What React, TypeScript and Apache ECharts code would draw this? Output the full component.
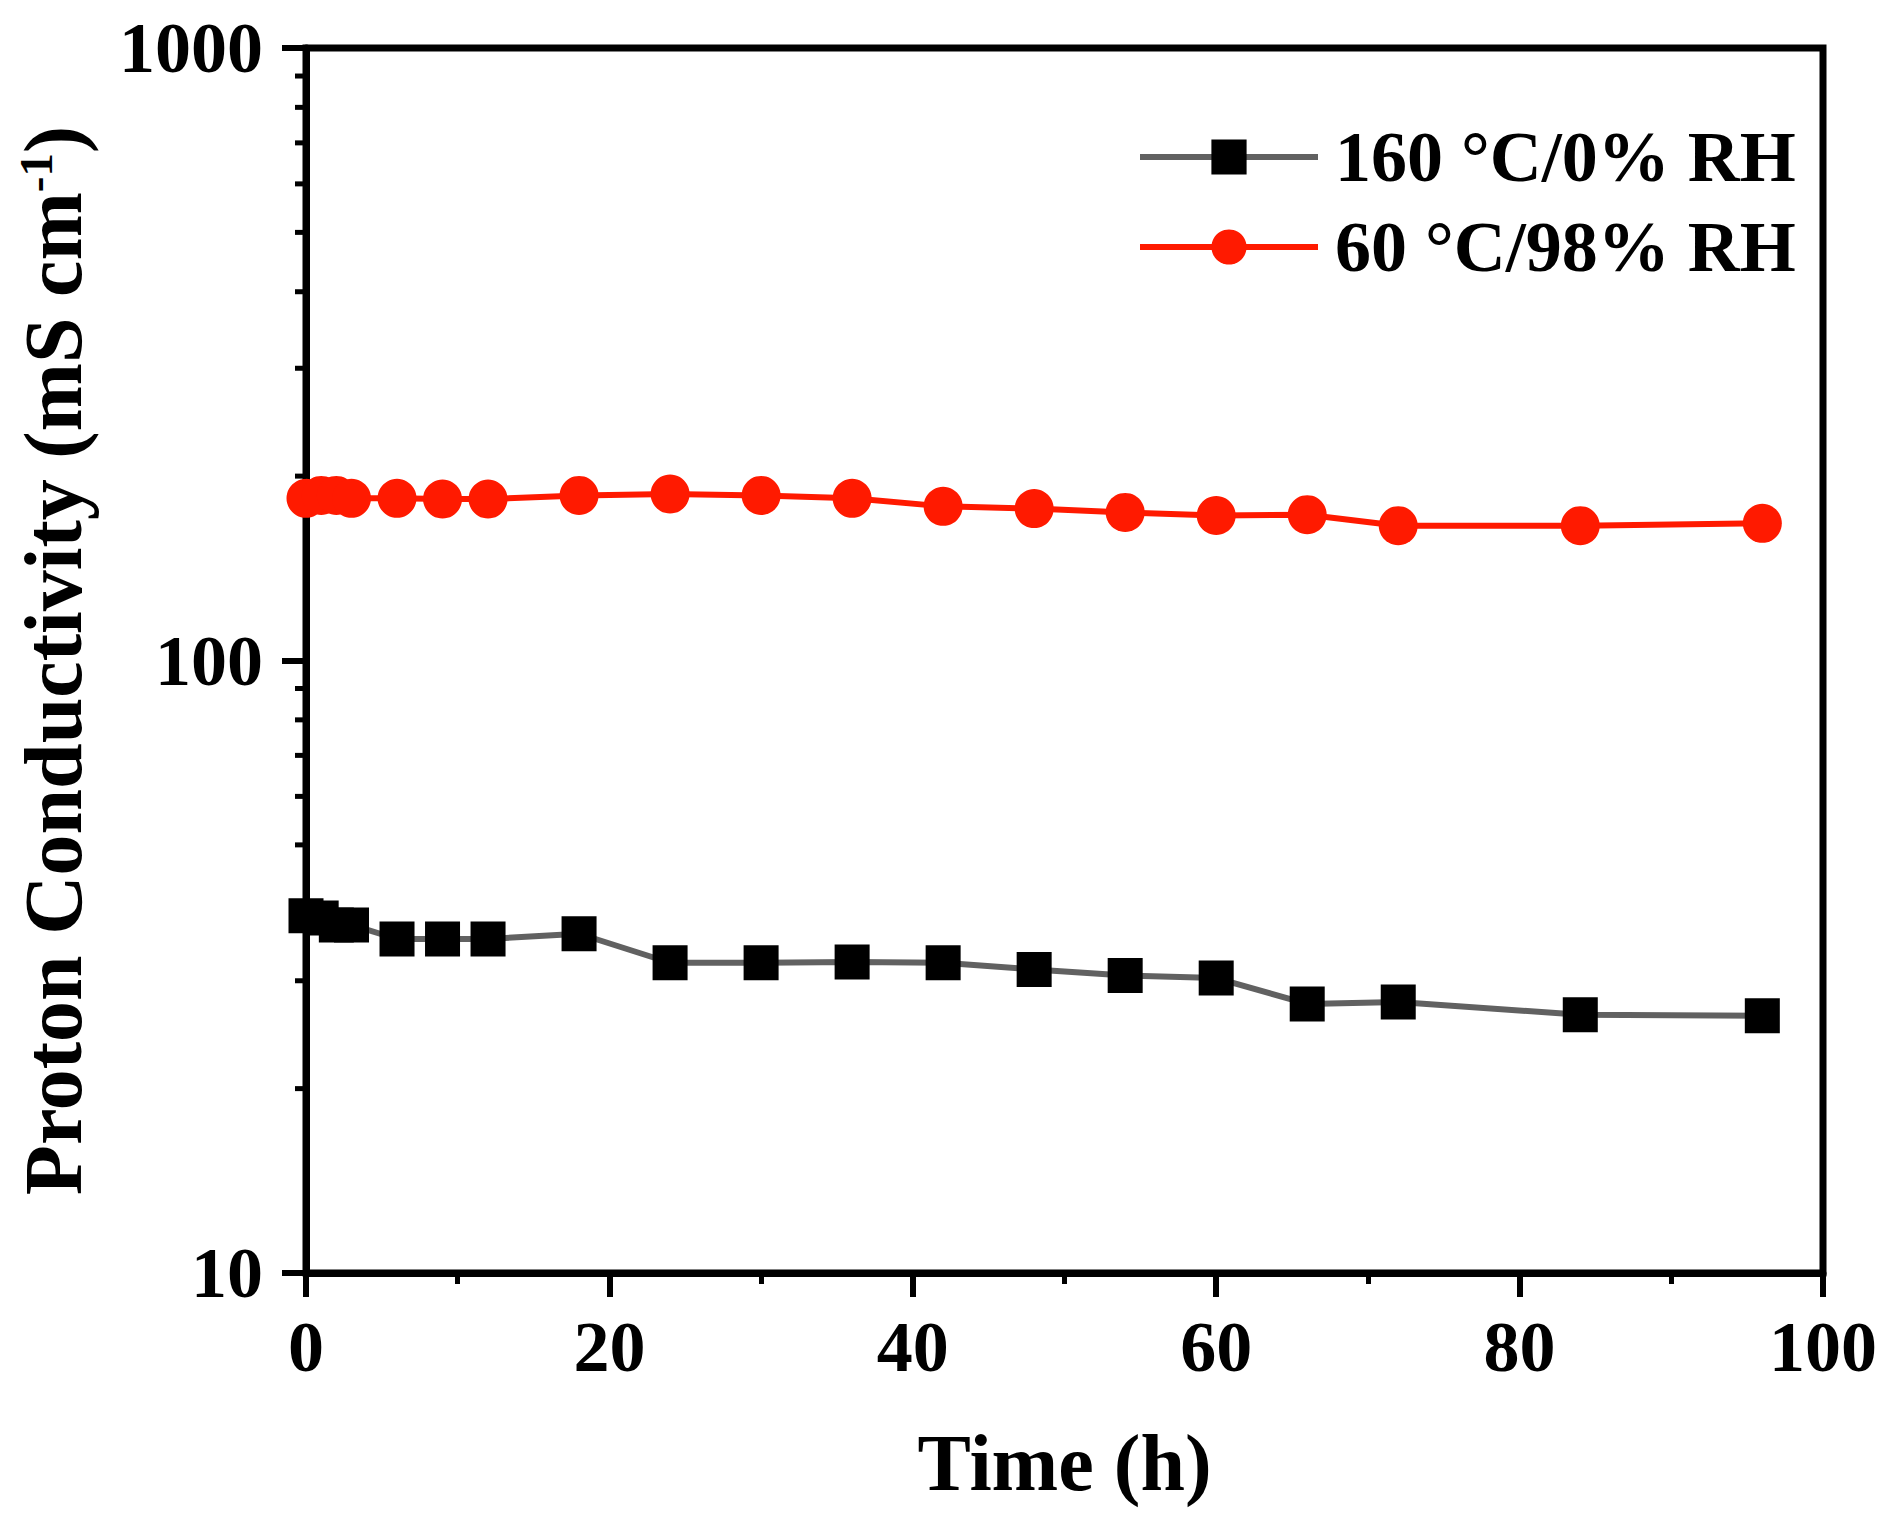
import { useEffect, useRef } from 'react';
import * as echarts from 'echarts';

const times = [0, 1, 2, 3, 6, 9, 12, 18, 24, 30, 36, 42, 48, 54, 60, 66, 72, 84, 96];
const dryValues = [38.3, 38.0, 37.0, 37.0, 35.1, 35.1, 35.1, 35.8, 32.1, 32.1, 32.2, 32.1, 31.3, 30.6, 30.3, 27.5, 27.7, 26.4, 26.3];
const humidValues = [184, 186, 186, 184, 184, 183.5, 183.5, 186, 187, 186, 184, 178.5, 177, 174.5, 172.5, 173, 166, 166, 167.5];
const seriesNames = ['160 °C/0% RH', '60 °C/98% RH'];
const yMinorTicks = [20, 30, 40, 50, 60, 70, 80, 90, 200, 300, 400, 500, 600, 700, 800, 900];

const FONT = '"Liberation Serif", "Times New Roman", serif';

export default function App() {
  const chartRef = useRef<HTMLDivElement>(null);

  useEffect(() => {
    if (!chartRef.current) return;
    const chart = echarts.init(chartRef.current, undefined, { renderer: 'svg' });

    chart.setOption({
      animation: false,
      backgroundColor: '#fff',
      grid: {
        left: 306,
        right: 81,
        top: 48,
        bottom: 264,
        show: true,
        borderColor: '#000',
        borderWidth: 7,
      },
      legend: {
        data: seriesNames,
        orient: 'vertical',
        left: 1132,
        top: 116,
        itemWidth: 178,
        itemHeight: 44,
        itemGap: 18,
        lineStyle: { width: 6 },
        textStyle: {
          fontSize: 72,
          fontWeight: 'bold',
          fontFamily: FONT,
          color: '#000',
          padding: [0, 0, 0, 12],
        },
      },
      xAxis: {
        type: 'value',
        min: 0,
        max: 100,
        interval: 20,
        name: 'Time (h)',
        nameLocation: 'middle',
        nameGap: 150,
        nameTextStyle: { fontSize: 80, fontWeight: 'bold', fontFamily: FONT, color: '#000' },
        axisLine: { lineStyle: { color: '#000', width: 7 } },
        axisTick: { length: 24, lineStyle: { color: '#000', width: 6 } },
        minorTick: { show: true, splitNumber: 2, length: 11, lineStyle: { color: '#000', width: 5 } },
        axisLabel: { fontSize: 72, fontWeight: 'bold', fontFamily: FONT, color: '#000', margin: 38 },
        splitLine: { show: false },
      },
      yAxis: {
        type: 'log',
        logBase: 10,
        min: 10,
        max: 1000,
        name: 'Proton Conductivity (mS cm{sup|-1})',
        nameLocation: 'middle',
        nameGap: 212,
        nameTextStyle: {
          fontSize: 82,
          fontWeight: 'bold',
          fontFamily: FONT,
          color: '#000',
          rich: {
            sup: {
              fontSize: 47,
              fontWeight: 'bold',
              fontFamily: FONT,
              color: '#000',
              verticalAlign: 'top',
            },
          },
        },
        axisLine: { lineStyle: { color: '#000', width: 7 } },
        axisTick: { length: 24, lineStyle: { color: '#000', width: 6 } },
        axisLabel: {
          fontSize: 72,
          fontWeight: 'bold',
          fontFamily: FONT,
          color: '#000',
          margin: 43,
          formatter: (v: number) => String(Math.round(v)),
        },
        splitLine: { show: false },
      },
      series: [
        {
          type: 'custom',
          silent: true,
          clip: false,
          z: 5,
          data: yMinorTicks.map((v) => [0, v]),
          encode: { x: 0, y: 1 },
          renderItem: (_params: any, api: any) => {
            const p = api.coord([0, api.value(1)]);
            return {
              type: 'line',
              shape: { x1: p[0] - 11, y1: p[1], x2: p[0], y2: p[1] },
              style: { stroke: '#000', lineWidth: 5 },
            };
          },
        },
        {
          name: seriesNames[0],
          type: 'line',
          data: times.map((t, i) => [t, dryValues[i]]),
          symbol: 'rect',
          symbolSize: 35,
          itemStyle: { color: '#000' },
          lineStyle: { color: '#616161', width: 6 },
        },
        {
          name: seriesNames[1],
          type: 'line',
          data: times.map((t, i) => [t, humidValues[i]]),
          symbol: 'circle',
          symbolSize: 39,
          itemStyle: { color: '#ff1a00' },
          lineStyle: { color: '#ff1a00', width: 6 },
        },
      ],
    });

    return () => {
      chart.dispose();
    };
  }, []);

  return (
    <div
      ref={chartRef}
      style={{ position: 'absolute', left: 0, top: 0, width: 1904, height: 1537, background: '#fff' }}
    />
  );
}
